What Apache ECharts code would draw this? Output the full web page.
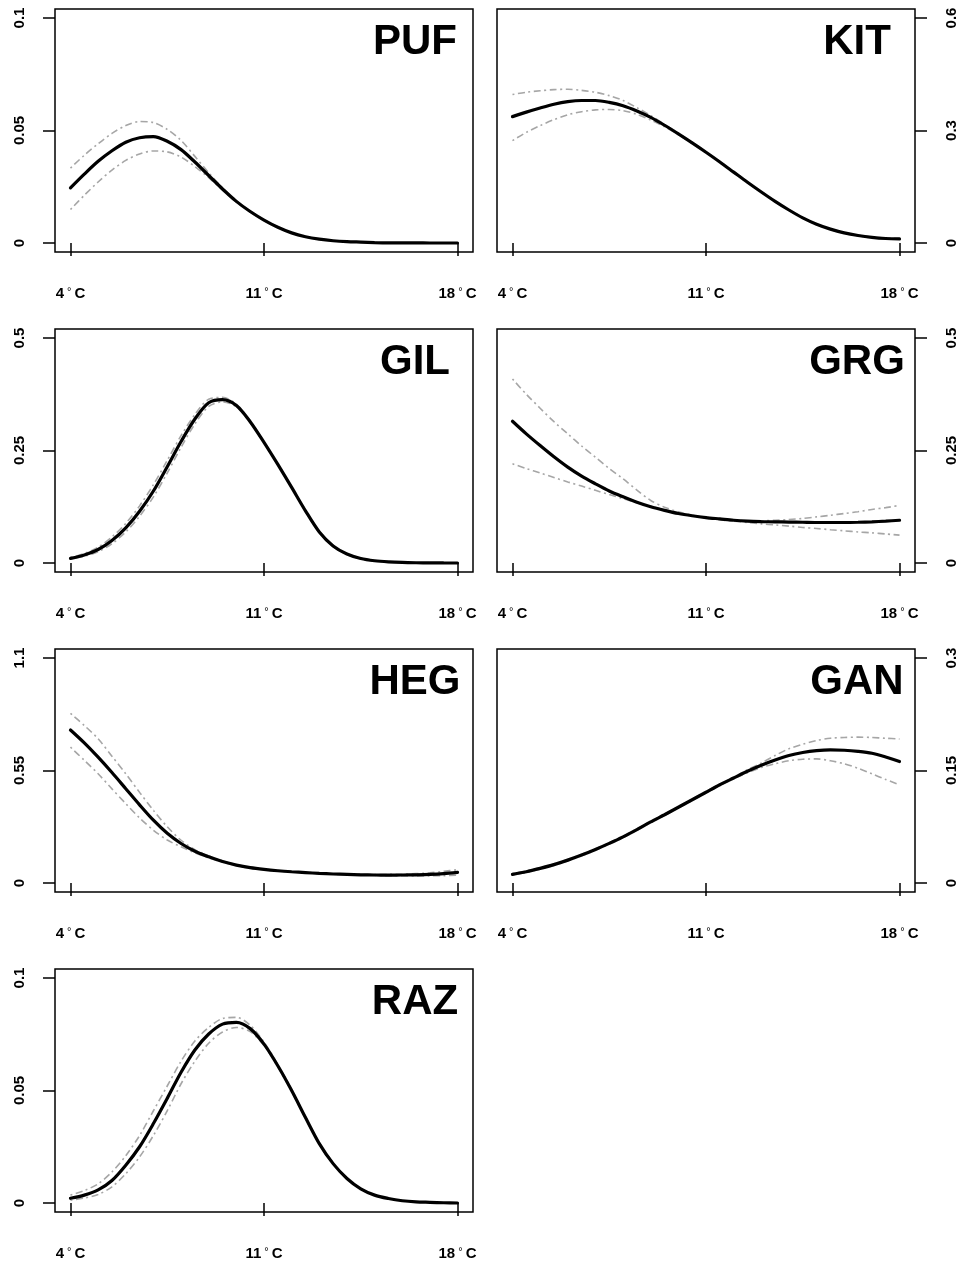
<!DOCTYPE html>
<html>
<head>
<meta charset="utf-8">
<script src="https://cdn.jsdelivr.net/npm/echarts@6/dist/echarts.min.js"></script>
<style>
  html, body { margin: 0; padding: 0; background: #fff; }
  #chart { width: 964px; height: 1265px; }
</style>
</head>
<body>
<div id="chart"></div>
<script>
// temperature grid (°C), half-degree steps
var temps = [4, 4.5, 5, 5.5, 6, 6.5, 7, 7.5, 8, 8.5, 9, 9.5, 10, 10.5, 11,
             11.5, 12, 12.5, 13, 13.5, 14, 14.5, 15, 15.5, 16, 16.5, 17, 17.5, 18];
var xTicks = [4, 11, 18];

// panel names, in drawing order
var names = ['PUF', 'KIT', 'GIL', 'GRG', 'HEG', 'GAN', 'RAZ'];

// y tick labels per panel
var yTicksPUF = [0, 0.05, 0.1];
var yTicksKIT = [0, 0.3, 0.6];
var yTicksGIL = [0, 0.25, 0.5];
var yTicksGRG = [0, 0.25, 0.5];
var yTicksHEG = [0, 0.55, 1.1];
var yTicksGAN = [0, 0.15, 0.3];
var yTicksRAZ = [0, 0.05, 0.1];

// fitted curve and confidence limits
var fitPUF = [0.0245, 0.0306, 0.0363, 0.0410, 0.0448, 0.0468, 0.0473, 0.0452, 0.0415, 0.0360, 0.0300, 0.0240, 0.0185, 0.0140, 0.0102,
              0.0070, 0.0045, 0.0028, 0.0017, 0.0010, 0.0006, 0.0004, 0.0002, 0.0001, 0.0001, 0.0001, 0, 0, 0];
var upPUF  = [0.0333, 0.0390, 0.0441, 0.0487, 0.0522, 0.0540, 0.0535, 0.0505, 0.0456, 0.0385, 0.0312, 0.0245, 0.0188, 0.0142, 0.0104,
              0.0071, 0.0046, 0.0028, 0.0017, 0.0010, 0.0006, 0.0004, 0.0002, 0.0001, 0.0001, 0.0001, 0, 0, 0];
var loPUF  = [0.0149, 0.0212, 0.0271, 0.0324, 0.0367, 0.0396, 0.0409, 0.0405, 0.0382, 0.0340, 0.0290, 0.0235, 0.0182, 0.0138, 0.0100,
              0.0069, 0.0044, 0.0027, 0.0016, 0.0010, 0.0006, 0.0004, 0.0002, 0.0001, 0.0001, 0.0001, 0, 0, 0];

var fitKIT = [0.337, 0.349, 0.360, 0.370, 0.377, 0.380, 0.380, 0.375, 0.366, 0.352, 0.335, 0.314, 0.291, 0.267, 0.242,
              0.216, 0.189, 0.162, 0.136, 0.111, 0.088, 0.067, 0.050, 0.037, 0.027, 0.020, 0.015, 0.012, 0.011];
var upKIT  = [0.396, 0.402, 0.406, 0.409, 0.410, 0.407, 0.402, 0.393, 0.380, 0.361, 0.340, 0.316, 0.293, 0.268, 0.243,
              0.217, 0.190, 0.163, 0.137, 0.112, 0.089, 0.068, 0.051, 0.038, 0.028, 0.021, 0.016, 0.013, 0.012];
var loKIT  = [0.273, 0.295, 0.313, 0.329, 0.342, 0.350, 0.355, 0.356, 0.353, 0.343, 0.328, 0.310, 0.289, 0.265, 0.241,
              0.215, 0.188, 0.161, 0.135, 0.110, 0.087, 0.066, 0.049, 0.036, 0.026, 0.019, 0.014, 0.011, 0.010];

var fitGIL = [0.0103, 0.018, 0.030, 0.050, 0.078, 0.115, 0.160, 0.214, 0.270, 0.320, 0.356, 0.363, 0.350, 0.314, 0.268,
              0.219, 0.168, 0.116, 0.069, 0.038, 0.020, 0.010, 0.005, 0.0025, 0.0012, 0.0006, 0.0003, 0.0001, 0];
var upGIL  = [0.012, 0.021, 0.035, 0.058, 0.088, 0.127, 0.174, 0.228, 0.283, 0.330, 0.364, 0.368, 0.353, 0.316, 0.269,
              0.220, 0.169, 0.117, 0.070, 0.039, 0.021, 0.011, 0.0055, 0.0027, 0.0013, 0.0006, 0.0003, 0.0001, 0];
var loGIL  = [0.009, 0.015, 0.025, 0.043, 0.069, 0.104, 0.147, 0.200, 0.257, 0.309, 0.348, 0.358, 0.347, 0.312, 0.267,
              0.218, 0.167, 0.115, 0.068, 0.037, 0.019, 0.009, 0.0045, 0.0023, 0.0011, 0.0005, 0.0002, 0.0001, 0];

var fitGRG = [0.315, 0.287, 0.261, 0.236, 0.213, 0.193, 0.176, 0.160, 0.147, 0.135, 0.125, 0.117, 0.110, 0.105, 0.101,
              0.098, 0.095, 0.093, 0.092, 0.0915, 0.091, 0.0905, 0.090, 0.090, 0.090, 0.0905, 0.0915, 0.093, 0.095];
var upGRG  = [0.409, 0.375, 0.344, 0.314, 0.287, 0.260, 0.235, 0.210, 0.187, 0.162, 0.139, 0.124, 0.1136, 0.106, 0.101,
              0.097, 0.095, 0.094, 0.0937, 0.095, 0.0966, 0.099, 0.1025, 0.106, 0.110, 0.114, 0.119, 0.123, 0.128];
var loGRG  = [0.2205, 0.210, 0.200, 0.190, 0.180, 0.171, 0.1615, 0.152, 0.143, 0.134, 0.126, 0.118, 0.111, 0.105, 0.100,
              0.096, 0.093, 0.090, 0.087, 0.0845, 0.082, 0.079, 0.0767, 0.074, 0.0715, 0.069, 0.067, 0.0645, 0.062];

var fitHEG = [0.748, 0.685, 0.615, 0.540, 0.461, 0.382, 0.307, 0.243, 0.193, 0.155, 0.128, 0.105, 0.0876, 0.075, 0.0665,
              0.060, 0.055, 0.051, 0.047, 0.044, 0.042, 0.040, 0.039, 0.0385, 0.039, 0.040, 0.042, 0.046, 0.052];
var upHEG  = [0.829, 0.770, 0.705, 0.620, 0.534, 0.443, 0.355, 0.275, 0.209, 0.163, 0.133, 0.108, 0.090, 0.077, 0.068,
              0.061, 0.056, 0.052, 0.048, 0.045, 0.043, 0.042, 0.041, 0.042, 0.043, 0.046, 0.050, 0.057, 0.065];
var loHEG  = [0.664, 0.600, 0.534, 0.460, 0.388, 0.318, 0.258, 0.210, 0.177, 0.147, 0.123, 0.102, 0.085, 0.073, 0.065,
              0.059, 0.054, 0.050, 0.046, 0.043, 0.041, 0.039, 0.037, 0.036, 0.035, 0.035, 0.035, 0.036, 0.038];

var fitGAN = [0.0115, 0.015, 0.0195, 0.0245, 0.0305, 0.0372, 0.0447, 0.0528, 0.0615, 0.0712, 0.0814, 0.091, 0.101, 0.111, 0.121,
              0.131, 0.140, 0.149, 0.157, 0.164, 0.170, 0.174, 0.1765, 0.1775, 0.177, 0.1755, 0.173, 0.168, 0.162];
var upGAN  = [0.0125, 0.016, 0.0205, 0.0255, 0.0315, 0.0382, 0.0457, 0.0538, 0.0625, 0.0722, 0.0824, 0.092, 0.102, 0.112, 0.122,
              0.132, 0.141, 0.151, 0.160, 0.170, 0.179, 0.185, 0.190, 0.193, 0.194, 0.1945, 0.194, 0.193, 0.192];
var loGAN  = [0.0105, 0.014, 0.0185, 0.0235, 0.0295, 0.0362, 0.0437, 0.0518, 0.0605, 0.0702, 0.0804, 0.090, 0.100, 0.110, 0.120,
              0.130, 0.139, 0.147, 0.154, 0.159, 0.163, 0.165, 0.1655, 0.163, 0.159, 0.153, 0.1456, 0.138, 0.131];

var fitRAZ = [0.0021, 0.0035, 0.0058, 0.0100, 0.0168, 0.0250, 0.0353, 0.0465, 0.0581, 0.0680, 0.0751, 0.0795, 0.0803, 0.0775, 0.0706,
              0.0610, 0.0500, 0.0380, 0.0264, 0.0175, 0.0109, 0.0063, 0.0035, 0.0020, 0.0010, 0.0005, 0.0003, 0.0001, 0];
var upRAZ  = [0.0035, 0.0055, 0.0085, 0.0138, 0.0210, 0.0300, 0.0410, 0.0520, 0.0630, 0.0720, 0.0780, 0.0820, 0.0825, 0.0790, 0.0715,
              0.0615, 0.0505, 0.0384, 0.0268, 0.0178, 0.0110, 0.0064, 0.0036, 0.0020, 0.0010, 0.0005, 0.0003, 0.0001, 0];
var loRAZ  = [0.0012, 0.0022, 0.0038, 0.0072, 0.0130, 0.0205, 0.0300, 0.0410, 0.0530, 0.0630, 0.0710, 0.0760, 0.0780, 0.0762, 0.0700,
              0.0605, 0.0495, 0.0376, 0.0260, 0.0172, 0.0107, 0.0062, 0.0034, 0.0019, 0.0010, 0.0005, 0.0003, 0.0001, 0];

var yTicksAll = [yTicksPUF, yTicksKIT, yTicksGIL, yTicksGRG, yTicksHEG, yTicksGAN, yTicksRAZ];
var fitAll = [fitPUF, fitKIT, fitGIL, fitGRG, fitHEG, fitGAN, fitRAZ];
var upAll = [upPUF, upKIT, upGIL, upGRG, upHEG, upGAN, upRAZ];
var loAll = [loPUF, loKIT, loGIL, loGRG, loHEG, loGAN, loRAZ];

// layout
var FONT = "'Liberation Sans', Arial, sans-serif";
var boxW = 418, boxH = 243;
var colLeft = [55, 497];
var rowTop = [9, 329, 649, 969];

function pairs(vals){
    return temps.map(function(t, i){ return [t, vals[i]]; });
}

var grids = [], xAxes = [], yAxes = [], series = [], graphics = [];

for (var i = 0; i < names.length; i++) {
    var col = i % 2, row = Math.floor(i / 2);
    var yt = yTicksAll[i];
    var ymax = yt[yt.length - 1];
    grids.push({
        left: colLeft[col], top: rowTop[row], width: boxW, height: boxH,
        show: true, borderColor: '#000', borderWidth: 1.5, backgroundColor: '#fff'
    });
    xAxes.push({
        type: 'value', gridIndex: i,
        min: 3.44, max: 18.56,
        axisLine: { show: false },
        splitLine: { show: false },
        axisTick: { show: true, customValues: xTicks, length: 13, lineStyle: { color: '#000', width: 1.5 } },
        axisLabel: {
            customValues: xTicks, margin: 34,
            formatter: function(v){ return '{n|' + v + '}{d| ° }{n|C}'; },
            rich: {
                n: { fontFamily: FONT, fontWeight: 'bold', fontSize: 15, color: '#000' },
                d: { fontFamily: FONT, fontSize: 11, color: '#000', verticalAlign: 'top' }
            }
        }
    });
    yAxes.push({
        type: 'value', gridIndex: i,
        position: col === 0 ? 'left' : 'right',
        min: -0.04 * ymax, max: 1.04 * ymax,
        axisLine: { show: false },
        splitLine: { show: false },
        axisTick: { show: true, customValues: yt, length: 12, lineStyle: { color: '#000', width: 1.5 } },
        axisLabel: {
            customValues: yt, rotate: 90, margin: col === 0 ? 28 : 29,
            fontFamily: FONT, fontWeight: 'bold', fontSize: 15, color: '#000',
            formatter: function(v){ return String(+v.toFixed(4)); }
        }
    });
    var ci = {
        type: 'line', xAxisIndex: i, yAxisIndex: i,
        smooth: 0.3, showSymbol: false, silent: true, z: 2,
        lineStyle: { color: '#a6a6a6', width: 1.6, type: [2, 3.5, 7, 3.5] }
    };
    series.push(Object.assign({}, ci, { name: names[i] + ' upper', data: pairs(upAll[i]) }));
    series.push(Object.assign({}, ci, { name: names[i] + ' lower', data: pairs(loAll[i]) }));
    series.push({
        name: names[i], type: 'line', xAxisIndex: i, yAxisIndex: i,
        smooth: 0.3, showSymbol: false, silent: true, z: 3,
        data: pairs(fitAll[i]),
        lineStyle: { color: '#000', width: 3.2, cap: 'round' }
    });
    graphics.push({
        type: 'text',
        x: colLeft[col] + 360, y: rowTop[row] + 33,
        style: {
            text: names[i], fontFamily: FONT, fontWeight: 'bold', fontSize: 42,
            fill: '#000', align: 'center', verticalAlign: 'middle'
        },
        z: 10
    });
}

var myChart = echarts.init(document.getElementById('chart'), null, { renderer: 'canvas' });
var option = {
    animation: false,
    backgroundColor: '#fff',
    grid: grids,
    xAxis: xAxes,
    yAxis: yAxes,
    series: series,
    graphic: graphics
};
myChart.setOption(option);
</script>
</body>
</html>
